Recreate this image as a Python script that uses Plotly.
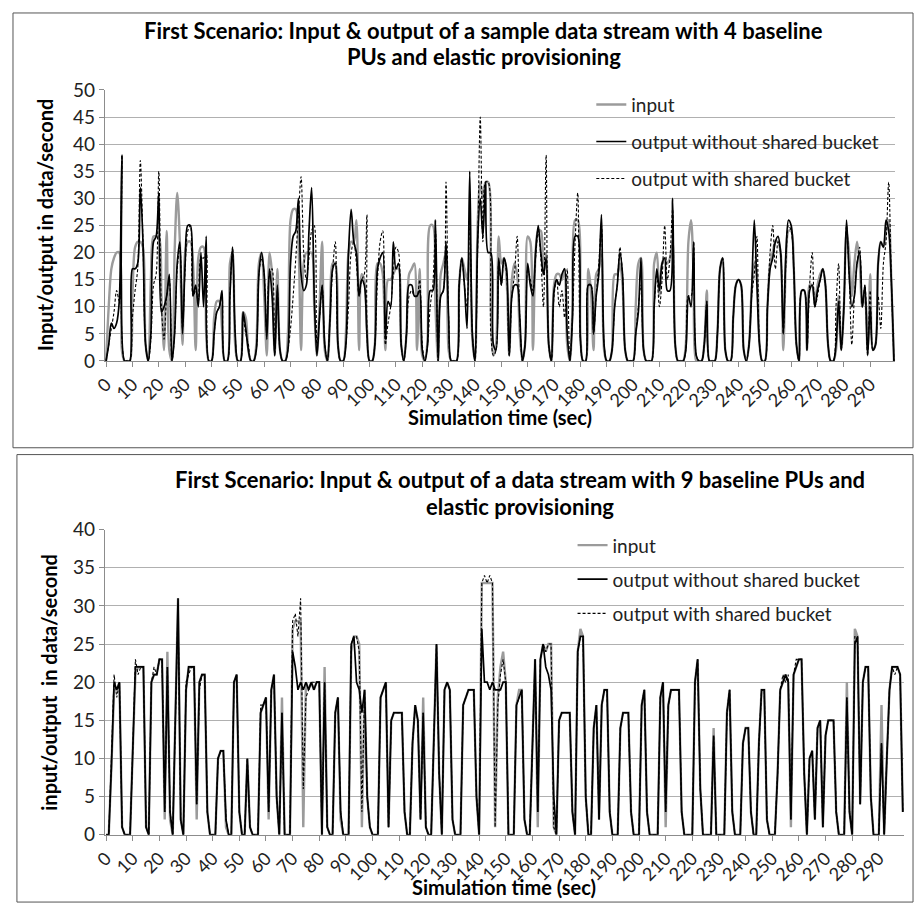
import plotly.graph_objects as go

t = list(range(300))
tick_vals = list(range(0, 300, 10))
tick_text = [str(v) for v in tick_vals]

# ---------------- Top chart (4 baseline PUs) ----------------
top_input = [
    0, 10, 17, 19, 20, 20, 2, 0, 0, 0,
    12, 21, 22, 22, 21, 3, 0, 15, 23, 23,
    23, 12, 2, 24, 2, 0, 20, 31, 22, 3,
    20, 22, 22, 18, 2, 19, 21, 21, 5, 0,
    0, 8, 11, 11, 6, 0, 0, 18, 20, 3,
    0, 0, 9, 8, 2, 0, 0, 3, 18, 20,
    12, 1, 20, 16, 1, 17, 2, 0, 0, 5,
    26, 28, 28, 22, 2, 18, 20, 20, 20, 10,
    1, 10, 22, 2, 0, 8, 18, 18, 3, 0,
    0, 5, 20, 22, 22, 26, 2, 16, 15, 6,
    0, 0, 3, 18, 18, 16, 2, 15, 15, 16,
    17, 17, 3, 0, 5, 16, 17, 18, 2, 17,
    1, 0, 4, 25, 25, 10, 0, 16, 18, 20,
    2, 0, 0, 0, 14, 19, 17, 15, 20, 4,
    0, 25, 33, 30, 33, 33, 10, 1, 3, 23,
    18, 19, 15, 1, 15, 18, 16, 5, 0, 3,
    23, 22, 2, 20, 24, 24, 16, 20, 3, 0,
    14, 16, 16, 15, 17, 3, 0, 10, 26, 26,
    5, 0, 0, 17, 13, 2, 16, 17, 20, 2,
    0, 0, 2, 16, 16, 18, 14, 2, 0, 0,
    0, 10, 18, 19, 2, 0, 0, 0, 18, 20,
    12, 18, 19, 18, 19, 22, 3, 0, 0, 0,
    3, 22, 26, 15, 0, 0, 0, 3, 13, 0,
    0, 0, 5, 17, 19, 2, 0, 0, 8, 14,
    15, 14, 2, 0, 3, 13, 18, 16, 3, 0,
    0, 10, 18, 20, 22, 22, 20, 2, 18, 24,
    24, 17, 3, 0, 13, 13, 2, 14, 14, 11,
    14, 16, 17, 14, 3, 0, 0, 2, 12, 2,
    10, 24, 20, 12, 18, 22, 18, 10, 12, 2,
    16, 2, 3, 18, 22, 21, 24, 26, 15, 0,
]
top_out_without = [
    0, 3, 7, 6, 7, 11, 38, 0, 0, 0,
    17, 17, 18, 32, 22, 3, 0, 5, 22, 23,
    31, 9, 10, 12, 16, 0, 5, 18, 22, 5,
    18, 25, 25, 12, 14, 10, 20, 10, 23, 0,
    0, 5, 9, 10, 13, 0, 0, 12, 21, 5,
    0, 0, 9, 6, 2, 0, 0, 2, 16, 20,
    16, 4, 17, 12, 1, 14, 2, 0, 0, 2,
    18, 23, 24, 30, 16, 13, 14, 24, 32, 12,
    1, 8, 14, 3, 0, 8, 17, 18, 3, 0,
    0, 3, 20, 28, 22, 20, 12, 15, 14, 5,
    0, 0, 3, 17, 19, 20, 4, 11, 10, 22,
    17, 18, 3, 0, 5, 14, 14, 12, 12, 13,
    2, 0, 3, 13, 13, 26, 0, 12, 13, 22,
    8, 0, 0, 0, 14, 19, 14, 6, 35, 5,
    0, 22, 30, 23, 33, 20, 20, 3, 2, 19,
    14, 19, 17, 1, 12, 14, 14, 8, 0, 3,
    18, 14, 12, 20, 25, 20, 16, 19, 3, 0,
    13, 15, 14, 16, 17, 5, 0, 8, 23, 23,
    4, 0, 0, 14, 14, 5, 12, 16, 27, 3,
    0, 0, 2, 10, 14, 20, 16, 2, 0, 0,
    0, 5, 9, 19, 2, 0, 0, 0, 10, 17,
    13, 18, 19, 13, 13, 30, 3, 0, 0, 0,
    2, 12, 10, 22, 1, 0, 0, 3, 11, 0,
    0, 0, 5, 17, 19, 2, 0, 0, 8, 14,
    15, 14, 2, 0, 3, 13, 26, 14, 3, 0,
    0, 10, 17, 19, 22, 23, 20, 5, 20, 26,
    25, 17, 3, 0, 13, 13, 2, 13, 14, 10,
    13, 15, 17, 14, 3, 0, 0, 3, 11, 2,
    10, 26, 16, 10, 12, 18, 20, 10, 14, 1,
    10, 2, 3, 18, 22, 21, 26, 24, 15, 0,
]
top_out_with = [
    0, 3, 6, 9, 13, 11, 38, 0, 0, 0,
    8, 13, 17, 37, 22, 3, 0, 4, 14, 16,
    35, 10, 4, 12, 15, 0, 5, 17, 21, 6,
    17, 24, 25, 12, 13, 11, 19, 19, 20, 0,
    0, 5, 9, 10, 12, 0, 0, 12, 21, 5,
    0, 0, 8, 5, 3, 0, 0, 2, 16, 19,
    16, 5, 16, 17, 1, 13, 2, 0, 0, 2,
    6, 12, 19, 27, 34, 20, 15, 19, 24, 25,
    3, 8, 14, 3, 0, 8, 17, 22, 3, 0,
    0, 3, 10, 20, 22, 18, 12, 15, 16, 27,
    0, 0, 3, 15, 22, 24, 3, 7, 10, 16,
    21, 20, 3, 0, 5, 12, 13, 12, 12, 15,
    3, 0, 3, 10, 14, 24, 0, 12, 13, 33,
    8, 0, 0, 0, 14, 19, 14, 10, 27, 5,
    0, 20, 45, 22, 33, 33, 5, 1, 2, 18,
    14, 19, 16, 1, 12, 16, 23, 8, 0, 3,
    17, 15, 13, 19, 24, 19, 10, 38, 3, 0,
    12, 15, 10, 13, 8, 17, 0, 8, 22, 31,
    4, 0, 0, 14, 14, 5, 12, 18, 25, 3,
    0, 0, 2, 10, 14, 21, 16, 2, 0, 0,
    0, 5, 10, 14, 2, 0, 0, 0, 10, 16,
    10, 15, 25, 15, 19, 28, 3, 0, 0, 0,
    2, 12, 12, 22, 1, 0, 0, 3, 11, 0,
    0, 0, 5, 17, 19, 2, 0, 0, 8, 14,
    15, 14, 2, 0, 3, 12, 16, 23, 3, 0,
    0, 10, 20, 25, 17, 22, 20, 5, 18, 25,
    24, 17, 3, 0, 13, 13, 2, 14, 20, 10,
    12, 15, 17, 14, 3, 0, 0, 10, 18, 2,
    10, 25, 16, 3, 12, 18, 21, 10, 14, 1,
    13, 2, 3, 12, 6, 18, 22, 33, 15, 0,
]

# ---------------- Bottom chart (9 baseline PUs) ----------------
bot_input = [
    0, 0, 9, 19, 19, 20, 1, 0, 0, 0,
    11, 21, 22, 22, 22, 1, 0, 20, 21, 21,
    23, 23, 2, 24, 2, 0, 15, 31, 2, 0,
    19, 22, 22, 22, 2, 20, 21, 21, 3, 0,
    0, 0, 10, 11, 11, 1, 0, 0, 20, 21,
    3, 0, 0, 10, 1, 0, 0, 0, 16, 17,
    18, 2, 19, 21, 5, 0, 18, 0, 0, 0,
    27, 28, 28, 28, 1, 20, 19, 20, 19, 20,
    20, 0, 22, 1, 0, 0, 16, 18, 2, 0,
    0, 0, 24, 26, 26, 25, 1, 19, 5, 1,
    0, 0, 0, 18, 19, 20, 1, 15, 16, 16,
    16, 16, 3, 0, 0, 12, 17, 15, 2, 18,
    1, 0, 0, 12, 25, 8, 0, 19, 20, 19,
    2, 0, 0, 0, 17, 18, 19, 19, 19, 5,
    0, 33, 33, 33, 33, 33, 1, 18, 22, 24,
    20, 0, 0, 0, 17, 19, 19, 2, 0, 0,
    12, 23, 1, 23, 25, 24, 25, 25, 1, 0,
    15, 16, 16, 16, 16, 3, 0, 24, 27, 26,
    5, 0, 0, 14, 17, 2, 17, 19, 19, 3,
    0, 0, 0, 14, 16, 16, 16, 3, 0, 0,
    0, 17, 19, 3, 0, 0, 0, 0, 18, 20,
    1, 17, 19, 19, 19, 19, 3, 0, 0, 0,
    0, 20, 23, 6, 0, 0, 0, 0, 14, 0,
    0, 0, 0, 16, 19, 3, 0, 0, 0, 12,
    14, 14, 3, 0, 0, 12, 19, 19, 2, 0,
    0, 0, 8, 19, 20, 21, 20, 1, 21, 22,
    23, 23, 8, 0, 10, 11, 2, 14, 15, 1,
    13, 15, 15, 15, 3, 0, 0, 0, 20, 3,
    0, 27, 26, 4, 20, 22, 22, 5, 0, 0,
    0, 17, 0, 10, 19, 22, 22, 22, 21, 3,
]
bot_out_without = [
    0, 0, 9, 20, 19, 20, 1, 0, 0, 0,
    11, 22, 22, 22, 22, 1, 0, 20, 21, 21,
    23, 23, 3, 22, 3, 0, 15, 31, 2, 0,
    19, 22, 22, 22, 4, 20, 21, 21, 3, 0,
    0, 0, 10, 11, 11, 2, 0, 0, 20, 21,
    3, 0, 0, 10, 1, 0, 0, 0, 16, 17,
    18, 3, 19, 21, 5, 0, 16, 0, 0, 0,
    24, 22, 19, 20, 19, 20, 19, 20, 19, 20,
    20, 0, 20, 1, 0, 0, 16, 18, 3, 0,
    0, 0, 25, 26, 20, 19, 16, 19, 5, 1,
    0, 0, 0, 18, 19, 20, 1, 15, 16, 16,
    16, 16, 3, 0, 0, 12, 17, 15, 2, 16,
    1, 0, 0, 12, 25, 8, 0, 19, 20, 19,
    2, 0, 0, 0, 17, 18, 19, 19, 19, 5,
    0, 27, 20, 20, 19, 20, 19, 19, 19, 20,
    20, 0, 0, 0, 17, 18, 19, 2, 0, 0,
    12, 23, 3, 23, 25, 22, 21, 19, 5, 0,
    15, 16, 16, 16, 16, 3, 0, 24, 26, 26,
    5, 0, 0, 14, 17, 2, 17, 19, 19, 3,
    0, 0, 0, 14, 16, 16, 16, 3, 0, 0,
    0, 17, 19, 3, 0, 0, 0, 0, 18, 20,
    3, 17, 19, 19, 19, 19, 3, 0, 0, 0,
    0, 20, 23, 6, 0, 0, 0, 0, 13, 0,
    0, 0, 0, 16, 19, 3, 0, 0, 0, 12,
    14, 14, 3, 0, 0, 12, 19, 19, 2, 0,
    0, 0, 8, 19, 20, 21, 20, 2, 21, 22,
    23, 23, 8, 0, 10, 11, 2, 14, 15, 1,
    13, 15, 15, 15, 3, 0, 0, 0, 18, 3,
    0, 25, 26, 4, 20, 22, 22, 5, 0, 0,
    0, 12, 0, 10, 19, 22, 22, 22, 21, 3,
]
bot_out_with = [
    0, 0, 10, 21, 18, 20, 1, 0, 0, 0,
    11, 23, 21, 22, 22, 1, 0, 20, 22, 21,
    23, 23, 3, 22, 3, 0, 15, 30, 2, 0,
    20, 21, 22, 22, 4, 19, 21, 21, 3, 0,
    0, 0, 10, 11, 11, 2, 0, 0, 20, 21,
    3, 0, 0, 10, 1, 0, 0, 0, 17, 17,
    18, 3, 19, 21, 5, 0, 16, 0, 0, 0,
    28, 29, 26, 31, 6, 18, 19, 20, 20, 20,
    20, 0, 20, 1, 0, 0, 16, 18, 3, 0,
    0, 0, 25, 26, 26, 24, 3, 19, 5, 1,
    0, 0, 0, 18, 19, 20, 1, 15, 16, 16,
    16, 16, 3, 0, 0, 12, 17, 15, 2, 16,
    1, 0, 0, 12, 25, 8, 0, 19, 20, 19,
    2, 0, 0, 0, 17, 18, 19, 19, 19, 5,
    0, 33, 34, 33, 34, 33, 1, 17, 21, 23,
    20, 0, 0, 0, 17, 18, 19, 2, 0, 0,
    12, 23, 3, 23, 25, 24, 25, 25, 1, 0,
    15, 16, 16, 16, 16, 3, 0, 24, 26, 26,
    5, 0, 0, 14, 17, 2, 17, 19, 19, 3,
    0, 0, 0, 14, 16, 16, 16, 3, 0, 0,
    0, 17, 19, 3, 0, 0, 0, 0, 18, 20,
    3, 17, 19, 19, 19, 19, 3, 0, 0, 0,
    0, 20, 23, 6, 0, 0, 0, 0, 13, 0,
    0, 0, 0, 16, 19, 3, 0, 0, 0, 12,
    14, 14, 3, 0, 0, 12, 19, 19, 2, 0,
    0, 0, 8, 19, 21, 20, 21, 2, 21, 23,
    23, 23, 8, 0, 10, 11, 2, 14, 15, 1,
    13, 15, 15, 15, 3, 0, 0, 0, 18, 3,
    0, 26, 26, 4, 20, 22, 22, 5, 0, 0,
    0, 12, 0, 10, 19, 22, 21, 22, 21, 3,
]

names = ["input", "output without shared bucket", "output with shared bucket"]

W = H = 915
def fx(x):
    return x / W
def fy(y):
    return 1 - y / H

FONT = "Lato, 'Open Sans', Arial, sans-serif"
GRAY = "#9b9b9b"
GRID = "#b0b0b0"
AXIS = "#8c8c8c"
TXT = "#222222"

styles = [
    dict(color=GRAY, width=2.4),
    dict(color="#000000", width=1.7),
    dict(color="#000000", width=1.1, dash="3px,2px"),
]

fig = go.Figure()
top_series = [top_input, top_out_without, top_out_with]
bot_series = [bot_input, bot_out_without, bot_out_with]
for i, ys in enumerate(top_series):
    fig.add_trace(go.Scatter(
        x=t, y=ys, mode="lines", name=names[i],
        line=dict(shape="spline", smoothing=0.9, **styles[i]),
        xaxis="x", yaxis="y", legend=["legend", "legend2", "legend3"][i],
        showlegend=True, hoverinfo="skip",
    ))
for i, ys in enumerate(bot_series):
    fig.add_trace(go.Scatter(
        x=t, y=ys, mode="lines", name=names[i],
        line=dict(shape="linear", **styles[i]),
        xaxis="x2", yaxis="y2", legend=["legend4", "legend5", "legend6"][i],
        showlegend=True, hoverinfo="skip",
    ))

# geometry (pixels)
T_L, T_R, T_TOP, T_BOT = 94, 895, 80, 358
B_L, B_R, B_TOP, B_BOT = 94, 904, 531, 844

common_x = dict(
    range=[-0.5, 299.5], tickmode="array", tickvals=tick_vals, ticktext=tick_text,
    tickangle=-45, showgrid=False, showline=True, linecolor=AXIS, linewidth=1,
    ticks="outside", ticklen=5, tickcolor=AXIS, zeroline=False,
    tickfont=dict(family=FONT, size=18, color=TXT),
)
common_y = dict(
    showgrid=True, gridcolor=GRID, gridwidth=1, showline=True, linecolor=AXIS,
    ticks="outside", ticklen=5, tickcolor=AXIS, zeroline=False, dtick=5,
    tickfont=dict(family=FONT, size=19, color=TXT),
)

def leg(x, y):
    return dict(x=fx(x), y=fy(y), xanchor="left", yanchor="middle",
                bgcolor="rgba(0,0,0,0)", borderwidth=0, itemwidth=30,
                font=dict(family=FONT, size=19, color=TXT))

fig.update_layout(
    width=W, height=H, autosize=False,
    margin=dict(l=0, r=0, t=0, b=0),
    paper_bgcolor="white", plot_bgcolor="white",
    hovermode=False,
    xaxis=dict(domain=[fx(T_L), fx(T_R)], anchor="y", **common_x),
    yaxis=dict(domain=[fy(T_BOT), fy(T_TOP)], anchor="x", range=[0, 50], **common_y),
    xaxis2=dict(domain=[fx(B_L), fx(B_R)], anchor="y2", **common_x),
    yaxis2=dict(domain=[fy(B_BOT), fy(B_TOP)], anchor="x2", range=[0, 40], **common_y),
    legend=leg(587, 95),
    legend2=leg(587, 133),
    legend3=leg(587, 171),
    legend4=leg(568, 547),
    legend5=leg(568, 582),
    legend6=leg(568, 617),
    shapes=[
        dict(type="rect", xref="paper", yref="paper", x0=fx(1), x1=fx(913), y0=fy(447), y1=fy(1),
             line=dict(color="#555555", width=1)),
        dict(type="rect", xref="paper", yref="paper", x0=fx(5), x1=fx(913), y0=fy(913), y1=fy(454),
             line=dict(color="#555555", width=1)),
    ],
)

ann = []
def text(x, y, s, size, bold=True, angle=0):
    ann.append(dict(x=fx(x), y=fy(y), xref="paper", yref="paper", text=("<b>%s</b>" % s) if bold else s,
                    showarrow=False, textangle=angle, xanchor="center", yanchor="middle",
                    font=dict(family=FONT, size=size, color="#000000")))

text(478, 19, "First Scenario: Input &amp; output of a sample data stream with 4 baseline", 22)
text(478, 46, "PUs and elastic provisioning", 22)
text(34, (T_TOP + T_BOT) / 2, "Input/output in data/second", 20, angle=-90)
text((T_L + T_R) / 2, 415, "Simulation time (sec)", 20)

text(515, 480, "First Scenario: Input &amp; output of a data stream with 9 baseline PUs and", 22)
text(515, 507, "elastic provisioning", 22)
text(38, (B_TOP + B_BOT) / 2, "input/output&#160;&#160;in data/second", 20, angle=-90)
text((B_L + B_R) / 2, 898, "Simulation time (sec)", 20)

fig.update_layout(annotations=ann)
fig.write_html(
    "out.html",
    config={"displayModeBar": False, "staticPlot": True},
    post_script="document.body.style.margin='0px';document.body.style.overflow='hidden';",
)
